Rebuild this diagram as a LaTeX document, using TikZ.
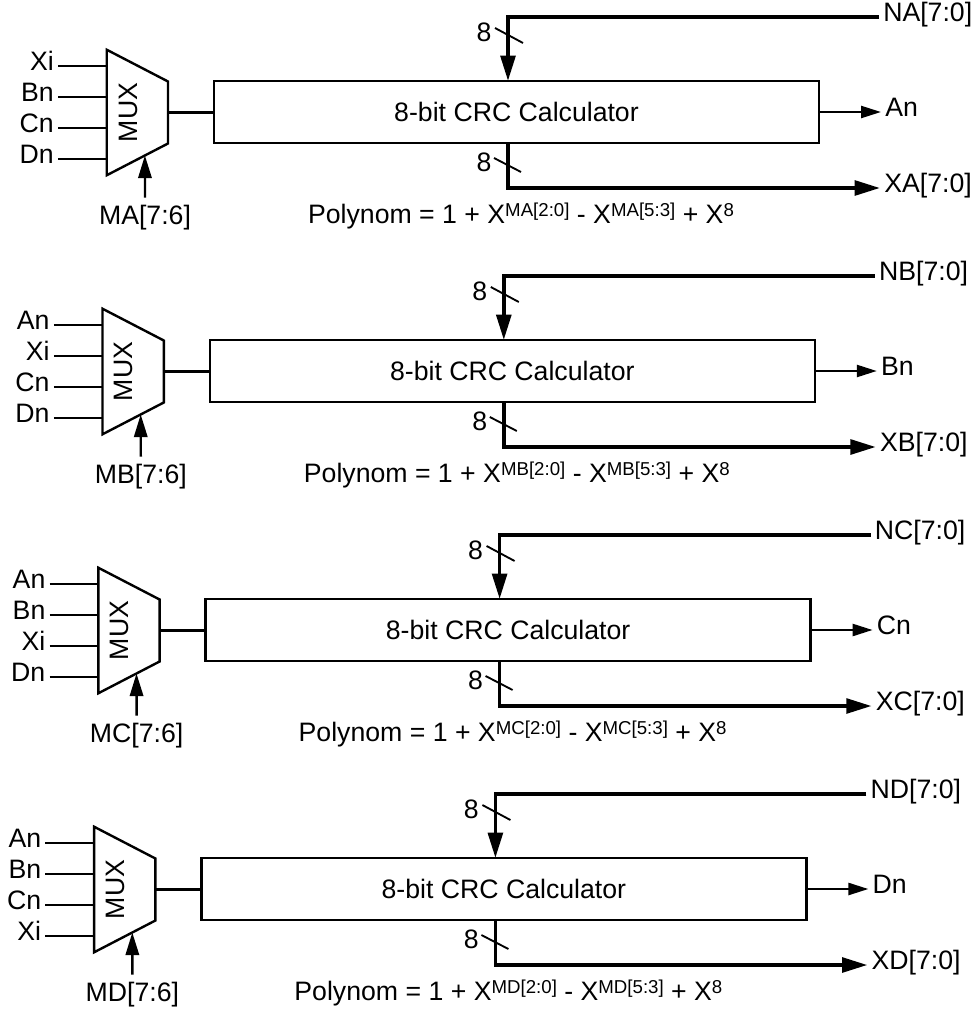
\documentclass[tikz,border=0pt]{standalone}
\usepackage{fontspec}
\setmainfont{Liberation Sans}
\usetikzlibrary{arrows.meta,calc,positioning}

\newcommand{\polysup}[1]{\raisebox{5.5pt}{\fontsize{14}{14}\selectfont #1}}

\begin{document}
\begin{tikzpicture}[
    x=0.75pt, y=-0.75pt,
    font=\fontsize{20}{23}\selectfont,
    muxbox/.style={rectangle, minimum width=45.75pt, minimum height=93.75pt, inner sep=0pt},
    crcbox/.style={rectangle, draw, line width=1.8pt, minimum width=453.75pt, minimum height=46.5pt},
    pinlabel/.style={inner sep=3pt, text height=0.72em, text depth=0pt},
    sig/.style={line width=1.8pt},
    sigarrow/.style={line width=1.8pt, -{Triangle[length=15pt, width=9pt]}},
    selarrow/.style={line width=1.8pt, -{Triangle[length=17pt, width=10pt]}},
    bus/.style={line width=2.8pt, -{Triangle[length=19pt, width=11pt]}},
    busnote/.style={line width=1.4pt}
]
\useasboundingbox (0,0) rectangle (974,1013);

\foreach \stg/\i/\outl/\ia/\ib/\ic/\id in {A/0/An/Xi/Bn/Cn/Dn, B/1/Bn/An/Xi/Cn/Dn, C/2/Cn/An/Bn/Xi/Dn, D/3/Dn/An/Bn/Cn/Xi}{
\begin{scope}[shift={(-4.2*\i,259*\i)}]
  % multiplexer
  \node[muxbox] (mux\stg) at (137.5,112.5) {};
  \coordinate (mtr\stg) at (168,81.5);
  \coordinate (mbr\stg) at (168,143.5);
  \draw[sig] (mux\stg.north west) -- (mtr\stg) -- (mbr\stg) -- (mux\stg.south west) -- cycle;
  \node[rotate=90] (mt\stg) at (128,112.5) {MUX};
  \foreach \lbl/\dy [count=\k] in {\ia/-46.5, \ib/-15.5, \ic/15.5, \id/46.5}{
    \node[pinlabel, anchor=east] (in\stg\k) at (58,112.5+\dy) {\lbl};
    \draw[sig] (in\stg\k.east) -- (in\stg\k.east -| mux\stg.west);
  }
  % select input
  \coordinate (tip\stg) at ($(mux\stg.south west)!0.623!(mbr\stg)$);
  \node[pinlabel] (sel\stg) at (145,220) {M\stg[7:6]};
  \draw[selarrow] ([yshift=10pt]sel\stg.north) -- (tip\stg);

  % crc block
  \node[crcbox] (crc\stg) at (516.5,112) {8-bit CRC Calculator};
  \draw[sig] (mux\stg.east) -- (mux\stg.east -| crc\stg.west);
  \node[pinlabel, anchor=west] (o\stg) at (881,112) {\outl};
  \draw[sigarrow] (crc\stg.east) -- (o\stg.west);
  \node[pinlabel] (poly\stg) at (521,219) {Polynom = 1 + X\polysup{M\stg[2:0]} - X\polysup{M\stg[5:3]} + X\polysup{8}};

  % 8-bit buses
  \coordinate (bin\stg) at (508,81);
  \coordinate (bout\stg) at (508,143);
  \node[pinlabel, anchor=west] (n\stg) at (879,17) {N\stg[7:0]};
  \node[pinlabel, anchor=west] (x\stg) at (880,188) {X\stg[7:0]};
  \draw[bus] (n\stg.west) -| (bin\stg);
  \draw[bus] (bout\stg) |- (x\stg.west);
  \draw[busnote] (495,28) -- (523,43);
  \draw[busnote] (494,158) -- (521,172);
  \node[pinlabel] (wn\stg) at (484,37) {8};
  \node[pinlabel] (wx\stg) at (484,167) {8};
\end{scope}
}

\end{tikzpicture}
\end{document}
